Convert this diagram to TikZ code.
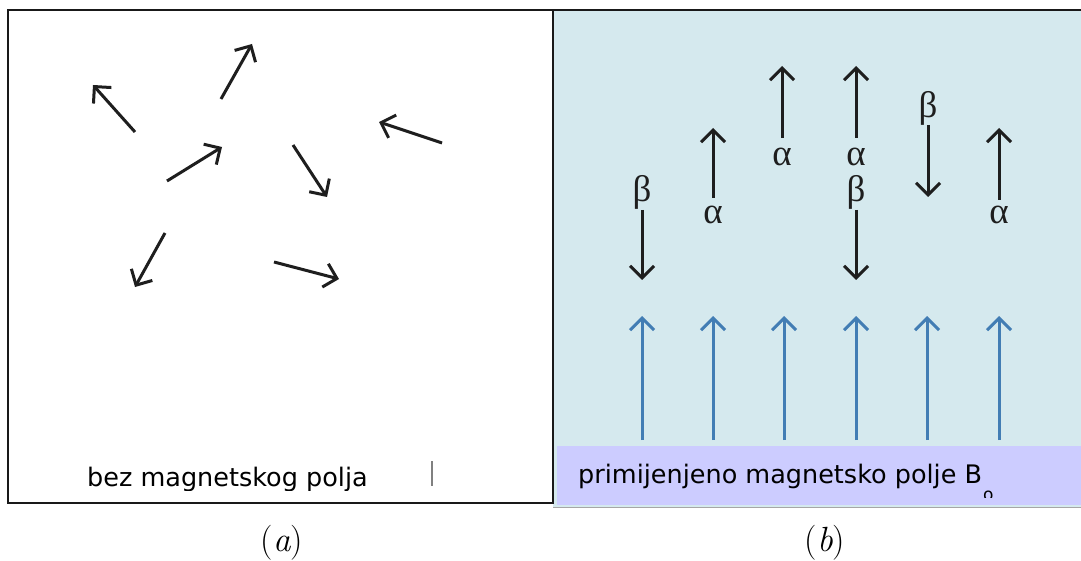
\documentclass[tikz,border=0pt]{standalone}
\usepackage{fontspec}
\setmainfont{DejaVu Sans}
\newfontfamily\greekfont{Liberation Serif}
\newfontfamily\capfont{Latin Modern Roman}
\usetikzlibrary{arrows.meta}
\definecolor{panelblue}{RGB}{213,233,238}
\definecolor{barlav}{RGB}{204,204,255}
\definecolor{fieldblue}{RGB}{66,125,180}
\definecolor{spin}{RGB}{30,30,30}
\definecolor{framecol}{RGB}{25,25,25}
\tikzset{
  spinarrow/.style={draw=spin, line width=3pt,
    -{Straight Barb[length=12pt,width=24pt,line width=3pt]}},
  fieldarrow/.style={draw=fieldblue, line width=3pt,
    -{Straight Barb[length=12pt,width=24pt,line width=3pt]}},
  greek/.style={inner sep=0pt, text=spin, font=\fontsize{37}{40}\selectfont\greekfont},
  labeltext/.style={inner sep=0pt, anchor=base west, font=\fontsize{25.5}{30}\selectfont},
  captext/.style={inner sep=0pt, anchor=base, font=\fontsize{35}{40}\selectfont\capfont},
}
\begin{document}
\begin{tikzpicture}[x=1pt, y=-1pt]
\useasboundingbox[fill=white] (0,0) rectangle (1081,561);
% right panel background
\fill[panelblue] (553,10) rectangle (1081,507);
\fill[barlav] (557,446) rectangle (1081,505);
\draw[gray!70, line width=1pt] (553,507) -- (1081,507);
% frames
\draw[framecol, line width=2.5pt] (8,10) rectangle (553,503);
\draw[framecol, line width=2.5pt] (553,10) -- (1081,10);

% left panel: random spins
\coordinate (l1s) at (135,132); \coordinate (l1t) at (93,85);
\coordinate (l2s) at (221,99);  \coordinate (l2t) at (252,44);
\coordinate (l3s) at (167,181); \coordinate (l3t) at (222,147);
\coordinate (l4s) at (293,145); \coordinate (l4t) at (327,197);
\coordinate (l5s) at (442,143); \coordinate (l5t) at (379,122);
\coordinate (l6s) at (165,233); \coordinate (l6t) at (135,287);
\coordinate (l7s) at (274,262); \coordinate (l7t) at (339,279);
\foreach \i in {1,...,7} { \draw[spinarrow] (l\i s) -- (l\i t); }

\begin{scope}
  \clip (8,10) rectangle (553,490);
  \node[labeltext] (lefttxt) at (87,486) {bez magnetskog polja};
\end{scope}
\draw[gray, line width=1.5pt] (432,461) -- (432,486);

% right panel: aligned spins
\node[greek] (b1) at (642,192) {β};
\node[greek] (a2) at (713,215) {α};
\node[greek] (a3) at (782,157) {α};
\node[greek] (a4) at (856,157) {α};
\node[greek] (b4) at (856,192) {β};
\node[greek] (b5) at (928,108) {β};
\node[greek] (a6) at (999,215) {α};

\coordinate (b1s) at (642,210); \coordinate (b1t) at (642,280);
\coordinate (a2s) at (713,198); \coordinate (a2t) at (713,128);
\coordinate (a3s) at (782,138); \coordinate (a3t) at (782,66);
\coordinate (a4s) at (856,138); \coordinate (a4t) at (856,66);
\coordinate (b4s) at (856,210); \coordinate (b4t) at (856,280);
\coordinate (b5s) at (928,125); \coordinate (b5t) at (928,197);
\coordinate (a6s) at (999,200); \coordinate (a6t) at (999,128);
\foreach \n in {b1,a2,a3,a4,b4,b5,a6} { \draw[spinarrow] (\n s) -- (\n t); }

% applied field B0
\foreach \x/\n in {642/1,713/2,784/3,856/4,927/5,999/6} {
  \coordinate (f\n s) at (\x,440);
  \coordinate (f\n t) at (\x,316);
  \draw[fieldarrow] (f\n s) -- (f\n t);
}

\begin{scope}
  \clip (553,446) rectangle (1081,497);
  \node[labeltext] (righttxt) at (578,483) {primijenjeno magnetsko polje B};
  \node[inner sep=0pt, anchor=base, font=\fontsize{17}{20}\selectfont] (sub) at ([xshift=6pt]righttxt.base east |- 0,500) {o};
\end{scope}

% captions
\node[captext] (capa) at (282,551) {(\textit{a})};
\node[captext] (capb) at (825,551) {(\textit{b})};
\end{tikzpicture}
\end{document}
